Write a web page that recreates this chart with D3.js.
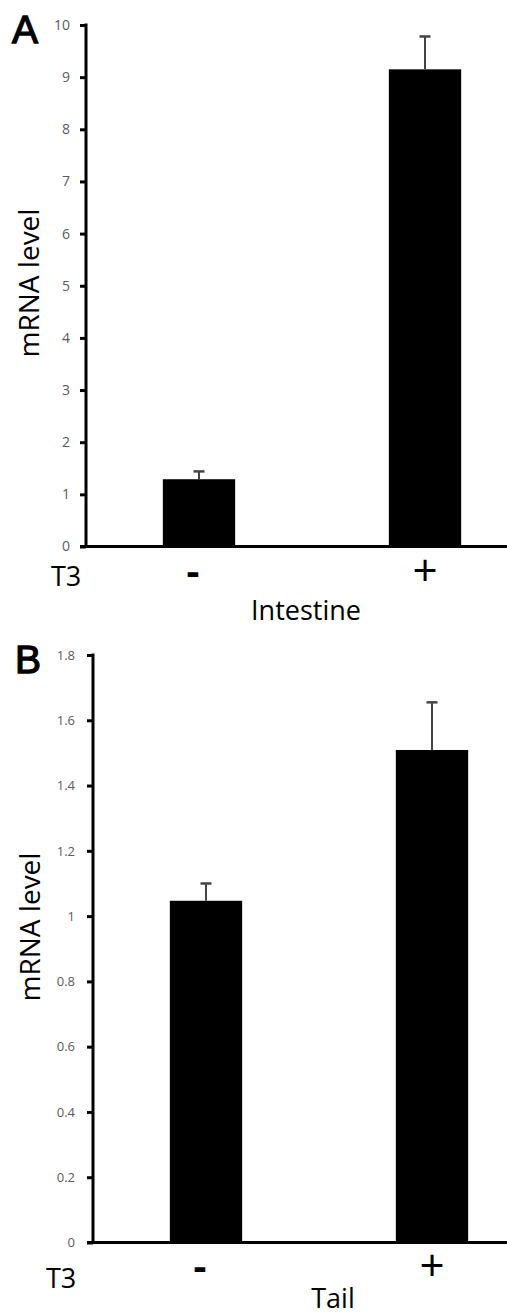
<!DOCTYPE html>
<html>
<head>
  <meta charset="utf-8">
  <title>mRNA level</title>
  <script src="https://d3js.org/d3.v7.min.js"></script>
  <style>
    body { margin: 0; background: #fff; }
    svg { display: block; }
    .tick text { fill: #5a5a5a; font-family: 'Open Sans', sans-serif; }
    .lbl { font-family: 'Open Sans', sans-serif; fill: #000; }
    .panel { font-family: 'Liberation Sans', Arial, sans-serif; fill: #000; }
  </style>
</head>
<body>
<script>
// data
const groups = ['-', '+'];
const intestineMean = [1.29, 9.15];
const intestineErr = [0.15, 0.63];
const intestineTicks = [0, 1, 2, 3, 4, 5, 6, 7, 8, 9, 10];
const tailMean = [1.047, 1.509];
const tailErr = [0.053, 0.146];
const tailTicks = [0, 0.2, 0.4, 0.6, 0.8, 1, 1.2, 1.4, 1.6, 1.8];

const svg = d3.select('body').append('svg')
  .attr('width', 507)
  .attr('height', 1316);

function panel(cfg) {
  const g = svg.append('g');

  const x = d3.scaleBand().domain(groups)
    .range([cfg.x0, cfg.x0 + 452])
    .paddingInner(0.68).paddingOuter(0.34);
  const y = d3.scaleLinear().domain(cfg.domain).range([cfg.yBottom, cfg.yTop]);

  // bars
  g.selectAll('rect.bar').data(cfg.mean).enter().append('rect')
    .attr('class', 'bar')
    .attr('x', (d, i) => x(groups[i]))
    .attr('width', x.bandwidth())
    .attr('y', d => y(d))
    .attr('height', d => y(0) - y(d))
    .attr('fill', '#000');

  // error bars (upper only)
  const eb = g.selectAll('g.err').data(cfg.mean).enter().append('g').attr('class', 'err');
  eb.append('line')
    .attr('x1', (d, i) => x(groups[i]) + x.bandwidth() / 2)
    .attr('x2', (d, i) => x(groups[i]) + x.bandwidth() / 2)
    .attr('y1', d => y(d))
    .attr('y2', (d, i) => y(d + cfg.err[i]))
    .attr('stroke', '#444').attr('stroke-width', 2);
  eb.append('line')
    .attr('x1', (d, i) => x(groups[i]) + x.bandwidth() / 2 - 5.5)
    .attr('x2', (d, i) => x(groups[i]) + x.bandwidth() / 2 + 5.5)
    .attr('y1', (d, i) => y(d + cfg.err[i]))
    .attr('y2', (d, i) => y(d + cfg.err[i]))
    .attr('stroke', '#444').attr('stroke-width', 2.5);

  // y axis
  const ax = g.append('g')
    .attr('transform', 'translate(' + cfg.x0 + ',0)')
    .call(d3.axisLeft(y).tickValues(cfg.ticks).tickSize(6).tickPadding(cfg.pad)
      .tickFormat(d3.format('~g')));
  ax.select('.domain').remove();
  ax.selectAll('.tick line').attr('stroke', '#000').attr('stroke-width', 3);
  ax.selectAll('.tick text').style('font-size', cfg.tickFont + 'px');
  g.append('line')
    .attr('x1', cfg.x0).attr('x2', cfg.x0)
    .attr('y1', y(cfg.domain[1]) - 1.5).attr('y2', y(0))
    .attr('stroke', '#000').attr('stroke-width', 3);

  // x baseline
  g.append('line')
    .attr('x1', cfg.x0 - 6).attr('x2', 507)
    .attr('y1', y(0)).attr('y2', y(0))
    .attr('stroke', '#000').attr('stroke-width', 3);

  // group labels
  g.selectAll('text.grp').data(groups).enter().append('text')
    .attr('class', 'lbl grp')
    .attr('x', d => x(d) + x.bandwidth() / 2 - (d === '-' ? 6 : 0))
    .attr('y', d => y(0) + cfg.grpDy + (d === '-' ? 0 : 1))
    .attr('text-anchor', 'middle')
    .style('font-size', d => d === '-' ? '40px' : '44px')
    .style('font-weight', d => d === '-' ? 'bold' : 'normal')
    .text(d => d);

  g.append('text').attr('class', 'lbl')
    .attr('x', cfg.t3x).attr('y', cfg.t3y)
    .style('font-size', '27px').text('T3');

  g.append('text').attr('class', 'lbl')
    .attr('x', cfg.nameX).attr('y', cfg.nameY)
    .attr('text-anchor', 'middle')
    .style('font-size', '27px').text(cfg.name);

  g.append('text').attr('class', 'lbl')
    .attr('transform', 'translate(' + cfg.ylx + ',' + cfg.yly + ')rotate(-90)')
    .attr('text-anchor', 'middle')
    .style('font-size', '28px').text('mRNA level');

  g.append('text').attr('class', 'panel')
    .attr('x', cfg.letterX).attr('y', cfg.letterY)
    .attr('stroke', '#000').attr('stroke-width', 1.3)
    .style('font-size', '39px').text(cfg.letter);
}

panel({
  letter: 'A', letterX: 12, letterY: 43,
  name: 'Intestine', nameX: 306, nameY: 620,
  mean: intestineMean, err: intestineErr, ticks: intestineTicks,
  domain: [0, 10], yBottom: 546.5, yTop: 25,
  x0: 86, pad: 10, tickFont: 14,
  grpDy: 38, t3x: 51, t3y: 586,
  ylx: 39, yly: 283
});

panel({
  letter: 'B', letterX: 15, letterY: 673,
  name: 'Tail', nameX: 333, nameY: 1308,
  mean: tailMean, err: tailErr, ticks: tailTicks,
  domain: [0, 1.8], yBottom: 1242.5, yTop: 655,
  x0: 93, pad: 12, tickFont: 13,
  grpDy: 37, t3x: 46, t3y: 1288,
  ylx: 40, yly: 927
});
</script>
</body>
</html>
